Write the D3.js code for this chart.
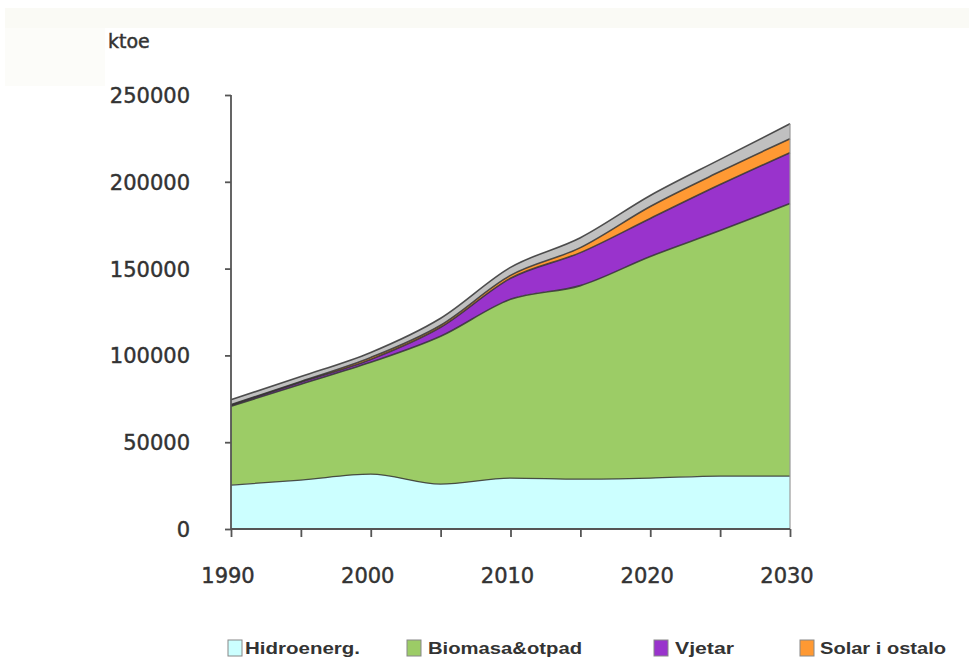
<!DOCTYPE html>
<html><head><meta charset="utf-8">
<script src="https://cdn.jsdelivr.net/npm/d3@7/dist/d3.min.js"></script>
<style>body{margin:0;background:#fff}svg{display:block}</style>
</head><body>
<script>
const years = [1990,1995,2000,2005,2010,2015,2020,2025,2030];
const hidro   = [25300,28200,31600,25900,29300,28700,29300,30500,30500];
const biomasa = [45400,55200,64400,85100,103000,111500,127700,141400,157000];
const vjetar  = [600,1200,1700,5200,12100,19000,21900,26500,29300];
const solar   = [300,400,1100,1200,1700,2900,6900,7500,8000];
const ostalo  = [2900,2800,2900,4000,4600,5700,6300,7000,8600];
const seriesNames = ["Hidroenerg.","Biomasa&otpad","Vjetar","Solar i ostalo","Ostalo"];
const seriesColors = ["#ccffff","#9ccc66","#9933cc","#ff9933","#c0c0c0"];
const yTicks = [0,50000,100000,150000,200000,250000];
const xTicks = [1990,1995,2000,2005,2010,2015,2020,2025,2030];
const xLabels = [1990,2000,2010,2020,2030];
const yTitle = "ktoe";

const W=969,H=662;
const svg=d3.select("body").append("svg").attr("width",W).attr("height",H);
svg.append("rect").attr("x",5).attr("y",8).attr("width",964).attr("height",20).attr("fill","#fafaf5");
svg.append("rect").attr("x",5).attr("y",28).attr("width",100).attr("height",58).attr("fill","#fcfcf9");

const x=d3.scaleLinear().domain([1990,2030]).range([231,790]);
const y=d3.scaleLinear().domain([0,250000]).range([529,95]);

const rows=years.map((yr,i)=>({year:yr,s0:hidro[i],s1:biomasa[i],s2:vjetar[i],s3:solar[i],s4:ostalo[i]}));
const keys=["s0","s1","s2","s3","s4"];
const stack=d3.stack().keys(keys)(rows);
const area=d3.area().x(d=>x(d.data.year)).y0(d=>y(d[0])).y1(d=>y(d[1])).curve(d3.curveMonotoneX);
const line=d3.line().x(d=>x(d.data.year)).y(d=>y(d[1])).curve(d3.curveMonotoneX);

svg.append("g").selectAll("path").data(stack).join("path")
  .attr("d",area).attr("fill",(d,i)=>seriesColors[i]);
svg.append("g").selectAll("path").data(stack).join("path")
  .attr("d",line).attr("fill","none").attr("stroke","#333").attr("stroke-width",(d,i)=>i==0?1.3:1.6).attr("opacity",0.85);
// right edge
svg.append("line").attr("x1",x(2030)).attr("x2",x(2030)).attr("y1",y(0)).attr("y2",y(stack[4][8][1]))
  .attr("stroke","#999").attr("stroke-width",1.2);

const txt={"font-family":"DejaVu Sans","fill":"#333","stroke":"#333","stroke-width":0.45};
function applyAttrs(sel,o){for(const k in o) sel.attr(k,o[k]); return sel;}

// axes
const ax=svg.append("g").attr("transform",`translate(0,${y(0)})`)
  .call(d3.axisBottom(x).tickValues(xTicks).tickSize(8).tickFormat(""));
ax.selectAll("path,line").attr("stroke","#555").attr("stroke-width",1.8);
ax.select(".domain").attr("d",`M${x(1990)},0H${x(2030)}`);
applyAttrs(svg.append("g").selectAll("text").data(xLabels).join("text")
  .attr("x",d=>x(d)-3).attr("y",583).attr("text-anchor","middle")
  .attr("font-size",21).text(d=>d),txt);

const ay=svg.append("g").attr("transform",`translate(${x(1990)},0)`)
  .call(d3.axisLeft(y).tickValues(yTicks).tickSize(6).tickFormat(""));
ay.selectAll("path,line").attr("stroke","#555").attr("stroke-width",1.8);
ay.select(".domain").attr("d",`M0,${y(250000)}V${y(0)}`);
applyAttrs(svg.append("g").selectAll("text").data(yTicks).join("text")
  .attr("x",190).attr("y",d=>y(d)+8).attr("text-anchor","end")
  .attr("font-size",21).text(d=>d),txt);

applyAttrs(svg.append("text").attr("x",108).attr("y",48)
  .attr("font-size",19).text(yTitle),txt);

// legend (first four series)
const legX=[228,407,654,800], legTextW=[115,154,59,126];
const lg=svg.append("g").selectAll("g").data(seriesNames.slice(0,4)).join("g")
  .attr("transform",(d,i)=>`translate(${legX[i]},640)`);
lg.append("rect").attr("width",14).attr("height",16).attr("fill",(d,i)=>seriesColors[i])
  .attr("stroke","#888").attr("stroke-width",1);
lg.append("text").attr("x",(d,i)=>i==0?17:i==3?20:21).attr("y",14)
  .attr("font-family","Liberation Sans").attr("font-weight","bold").attr("font-size",17)
  .attr("fill","#333").attr("textLength",(d,i)=>legTextW[i]).attr("lengthAdjust","spacingAndGlyphs").text(d=>d);
</script>
</body></html>
